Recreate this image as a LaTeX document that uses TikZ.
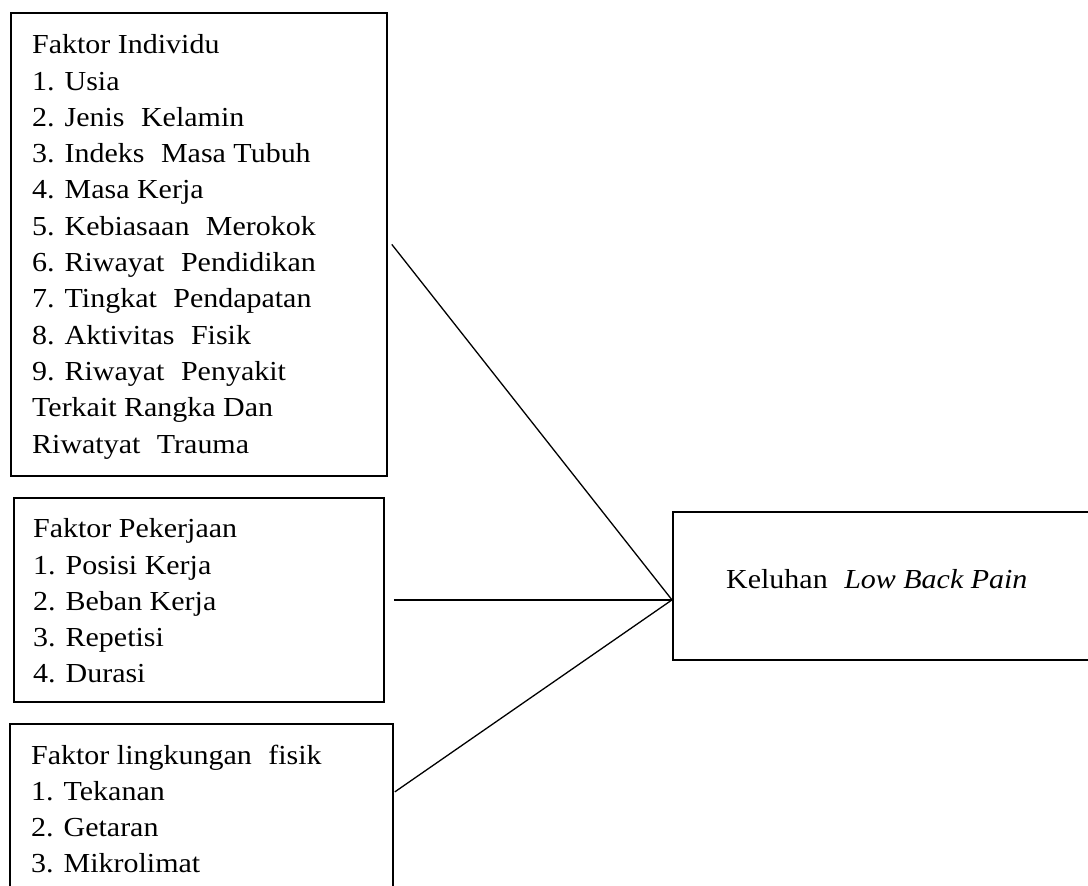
\documentclass[tikz,border=0pt]{standalone}
\usepackage{fontspec}
\setmainfont{Liberation Serif}[FakeStretch=1.09]
\usetikzlibrary{positioning, calc}
\tikzset{
  factor/.style   = {draw, line width=1.8pt, inner sep=0, anchor=north west},
  itemlist/.style = {anchor=north west, inner sep=0, align=left,
                     font=\fontsize{27.5}{36.3}\selectfont},
  link/.style     = {line width=1.3pt}
}
% wide word gap as printed in the lists
\newcommand{\wsp}{\hspace{0.6em}}

\begin{document}
\begin{tikzpicture}[x=1pt, y=-1pt]

\useasboundingbox (0,0) rectangle (1088,886);
\clip (0,0) rectangle (1088,886);

% ──────────────────────────
%  Factor boxes (left column)
% ──────────
\node[factor, minimum width=376pt, minimum height=463pt] (indiv) at (10,12) {};
\node[itemlist] (indivtxt) at (32,34.5)
  {Faktor Individu\\
   1. Usia\\
   2. Jenis\wsp Kelamin\\
   3. Indeks\wsp Masa Tubuh\\
   4. Masa Kerja\\
   5. Kebiasaan\wsp Merokok\\
   6. Riwayat\wsp Pendidikan\\
   7. Tingkat\wsp Pendapatan\\
   8. Aktivitas\wsp Fisik\\
   9. Riwayat\wsp Penyakit\\
   Terkait Rangka Dan\\
   Riwatyat\wsp Trauma};

\node[factor, minimum width=370pt, minimum height=204pt] (kerja) at (13,497) {};
\node[itemlist] (kerjatxt) at (33,518.5)
  {Faktor Pekerjaan\\
   1. Posisi Kerja\\
   2. Beban Kerja\\
   3. Repetisi\\
   4. Durasi};

\node[factor, minimum width=383pt, minimum height=190pt] (lingk) at (9,723) {};
\node[itemlist] (lingktxt) at (31,744.5)
  {Faktor lingkungan\wsp fisik\\
   1. Tekanan\\
   2. Getaran\\
   3. Mikrolimat};

% ──────────────────────────
%  Outcome box
% ──────────
\node[factor, minimum width=430pt, minimum height=148pt] (klbp) at (672,511) {};
\node[itemlist, anchor=base west] (klbptxt) at (726,588)
  {Keluhan\wsp \textit{Low Back Pain}};

% connectors
\coordinate (hub) at (klbp.west |- kerja.east);
\draw[link] ([xshift=4pt]indiv.east) -- (hub);
\draw[link] ([xshift=9pt]kerja.east) -- (hub);
\draw[link] ([xshift=1pt, yshift=27pt]lingk.east) -- (hub);

\end{tikzpicture}
\end{document}
